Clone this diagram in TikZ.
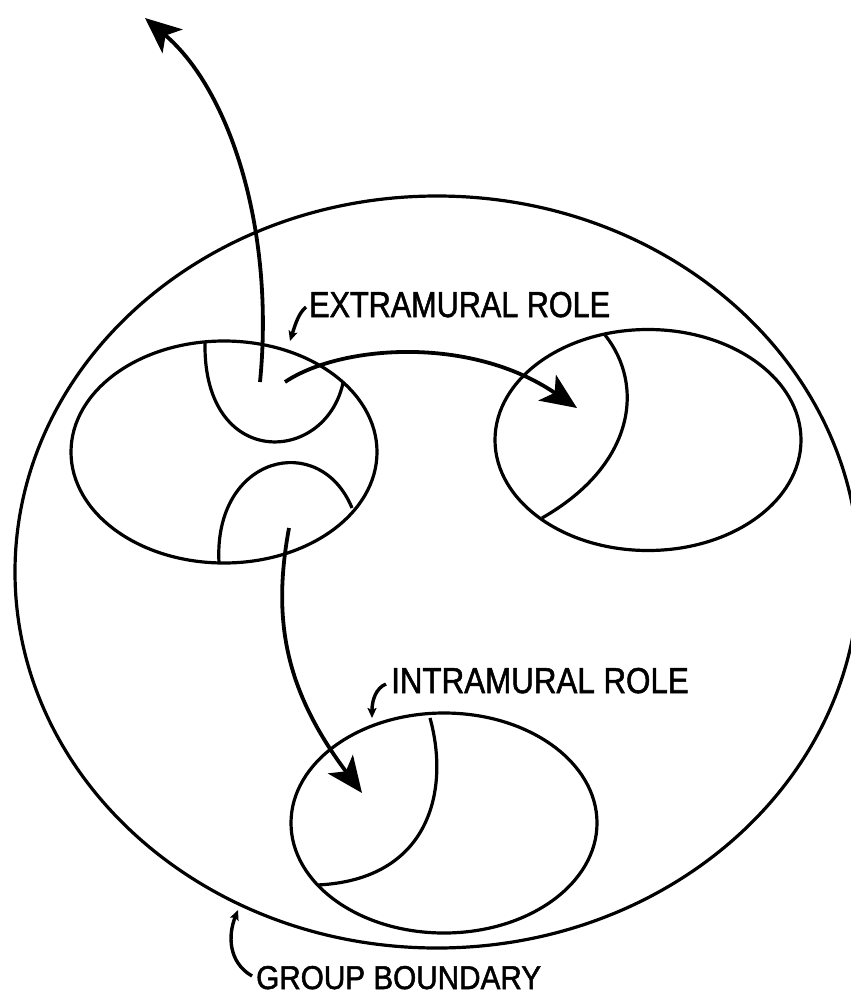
\documentclass[tikz,border=0pt]{standalone}
\usepackage{fontspec}
\setmainfont{Liberation Sans}
\newfontfamily\lblfont{Liberation Sans}[BoldFont=Liberation Sans,BoldFeatures={FakeBold=1.6}]
\usetikzlibrary{shapes.geometric,arrows.meta}
\begin{document}
\begin{tikzpicture}[x=1pt,y=-1pt,
  oval/.style={draw,ellipse,inner sep=0pt,line width=3.2pt},
  arc/.style={line width=3.2pt},
  bigarrow/.style={line width=3.8pt,-{Stealth[length=36pt,width=31pt,inset=9pt]}},
  pointer/.style={line width=3.4pt,-{Stealth[length=10pt,width=9pt,inset=2pt]}},
  lbl/.style={anchor=base west,inner sep=0pt,font=\lblfont\bfseries\fontsize{36}{36}\selectfont}]
\useasboundingbox (0,0) rectangle (851,996);
\clip (0,0) rectangle (851,996);
% group boundary
\node[oval,minimum width=844pt,minimum height=752pt] (group) at (437,572) {};
% three role ellipses
\node[oval,minimum width=306pt,minimum height=222pt] (origin) at (224,452) {};
\node[oval,minimum width=306pt,minimum height=221pt] (extra) at (648,440) {};
\node[oval,minimum width=306pt,minimum height=220pt] (intra) at (444,823) {};
% inner arcs
\draw[arc] (205,343) .. controls (203,470) and (325,465) .. (343,383);
\draw[arc] (219,563) .. controls (213,455) and (320,430) .. (352,508);
\draw[arc] (605,335) .. controls (645,385) and (635,465) .. (542,518);
\draw[arc] (430,718) .. controls (450,790) and (430,880) .. (317,885);
% arrow end points
\coordinate (upS) at (260,382);
\coordinate (upE) at (145,18);
\coordinate (rS) at (285,382);
\coordinate (rE) at (577,408);
\coordinate (dS) at (289,528);
\coordinate (dE) at (362,793);
\draw[bigarrow] (upS) .. controls (275,230) and (230,90) .. (upE);
\draw[bigarrow] (rS) .. controls (340,345) and (470,335) .. (rE);
\draw[bigarrow] (dS) .. controls (272,620) and (285,690) .. (dE);
% labels
\node[lbl] (extralbl) at (309,317) {\scalebox{0.85}[1]{EXTRAMURAL ROLE}};
\node[lbl] (intralbl) at (391,693) {\scalebox{0.87}[1]{INTRAMURAL ROLE}};
\node[lbl,font=\lblfont\bfseries\fontsize{33}{33}\selectfont] (grouplbl) at (256,989) {\scalebox{0.9}[1]{GROUP BOUNDARY}};
% label pointers
\coordinate (p1s) at (306,307);
\coordinate (p1e) at (290,341);
\coordinate (p2s) at (386,684);
\coordinate (p2e) at (372,718);
\coordinate (p3s) at (252,976);
\coordinate (p3e) at (238,910);
\draw[pointer] (p1s) .. controls (299,313) and (296,322) .. (p1e);
\draw[pointer] (p2s) .. controls (376,688) and (372,700) .. (p2e);
\draw[pointer] (p3s) .. controls (228,962) and (228,935) .. (p3e);
\end{tikzpicture}
\end{document}
